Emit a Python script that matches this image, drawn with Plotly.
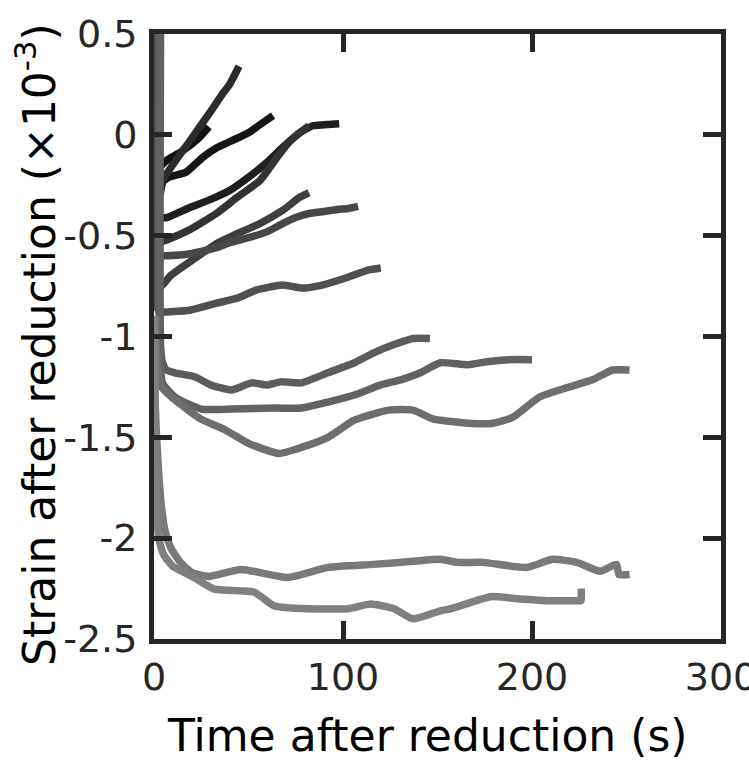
import plotly.graph_objects as go

# ---- data ----
t_a = [3, 3, 5, 12, 19, 25, 31, 36, 40, 45]
s_a = [0.6, -0.30, -0.22, -0.12, -0.03, 0.05, 0.13, 0.20, 0.25, 0.34]

t_b = [1.5, 1.5, 3, 7, 15, 24, 29]
s_b = [0.6, -0.17, -0.16, -0.125, -0.08, -0.013, 0.04]

t_c = [1, 1, 3, 8, 17, 26, 33, 41, 50, 56, 63]
s_c = [0.6, -0.24, -0.24, -0.21, -0.185, -0.11, -0.065, -0.03, 0.01, 0.05, 0.095]

t_d = [0.5, 0.5, 3, 7, 19, 30, 40, 50, 59, 68, 77, 84, 90, 98]
s_d = [0.6, -0.41, -0.41, -0.41, -0.36, -0.32, -0.276, -0.21, -0.143, -0.063, 0.01, 0.045, 0.05, 0.055]

t_e = [1, 1, 4, 7, 19, 33, 44, 56, 65, 72, 82]
s_e = [0.6, -0.52, -0.53, -0.52, -0.47, -0.39, -0.31, -0.227, -0.113, -0.03, 0.045]

t_f = [1.5, 1.5, 2.2, 4, 8.5, 20.5, 33, 44, 56, 68, 77, 82]
s_f = [0.6, -0.68, -0.73, -0.75, -0.70, -0.62, -0.54, -0.49, -0.44, -0.375, -0.31, -0.286]

t_g = [1, 1, 3, 7, 19, 33, 40, 50, 60, 68, 75, 82, 90, 97, 103, 108]
s_g = [0.6, -0.6, -0.6, -0.6, -0.59, -0.56, -0.535, -0.51, -0.48, -0.44, -0.41, -0.39, -0.38, -0.37, -0.365, -0.355]

t_h = [1.5, 1.5, 3, 7, 19, 33, 44, 54, 68, 78.5, 89, 103, 113.5, 120]
s_h = [0.6, -0.85, -0.88, -0.878, -0.87, -0.835, -0.81, -0.77, -0.745, -0.76, -0.745, -0.705, -0.67, -0.66]

t_i = [3.5, 3.5, 4.5, 6.5, 11, 21.6, 30, 41, 51.6, 60, 67, 78, 92, 106, 116.5, 127, 137, 146]
s_i = [0.6, -1.05, -1.13, -1.166, -1.18, -1.2, -1.24, -1.265, -1.23, -1.24, -1.225, -1.23, -1.18, -1.13, -1.08, -1.04, -1.01, -1.01]

t_j = [3, 3, 4.5, 11, 25, 41, 64, 78, 92, 106, 120, 130.5, 141, 151.5, 166, 176, 188, 200]
s_j = [0.6, -1.1, -1.23, -1.3, -1.36, -1.36, -1.355, -1.355, -1.325, -1.29, -1.24, -1.215, -1.18, -1.13, -1.14, -1.125, -1.115, -1.115]

t_k = [1, 1, 4, 16, 25, 37, 50, 66, 78, 92, 106, 124, 137, 148, 166, 179.5, 190, 204, 218, 232, 242.6, 251.6]
s_k = [-0.9, -1.0, -1.25, -1.35, -1.41, -1.46, -1.53, -1.58, -1.55, -1.5, -1.415, -1.365, -1.365, -1.41, -1.43, -1.43, -1.4, -1.3, -1.255, -1.215, -1.166, -1.166]

t_l = [0.5, 0.5, 2, 4, 6, 9, 14, 20, 29, 46, 71, 92, 116, 137, 151.5, 160.5, 174, 197, 211, 223.7, 236, 244.7, 246, 251.6]
s_l = [-0.9, -1.3, -1.6, -1.85, -1.97, -2.05, -2.12, -2.17, -2.19, -2.155, -2.195, -2.145, -2.13, -2.115, -2.105, -2.12, -2.12, -2.145, -2.105, -2.12, -2.164, -2.13, -2.18, -2.18]

t_m = [0, 0, 0.5, 1, 1.5, 2.5, 5, 10, 16, 22, 32, 53, 63.7, 81.5, 102.6, 114.7, 127, 137, 151.5, 157, 178, 192, 209.5, 223.7, 226, 226]
s_m = [-0.9, -0.95, -1.2, -1.6, -1.85, -2.0, -2.08, -2.14, -2.17, -2.2, -2.253, -2.268, -2.336, -2.35, -2.35, -2.327, -2.35, -2.4, -2.36, -2.35, -2.29, -2.3, -2.31, -2.31, -2.31, -2.25]

series_t = [t_b, t_c, t_d, t_a, t_e, t_f, t_g, t_h, t_i, t_j, t_k, t_l, t_m]
series_s = [s_b, s_c, s_d, s_a, s_e, s_f, s_g, s_h, s_i, s_j, s_k, s_l, s_m]
series_col = ["#111111", "#161616", "#1f1f1f", "#2b2b2b", "#333333", "#3f3f3f",
              "#474747", "#505050", "#5c5c5c", "#626262", "#6e6e6e", "#797979", "#808080"]

x_ticks = [0, 100, 200, 300]
y_ticks = [-2.5, -2, -1.5, -1, -0.5, 0, 0.5]
y_ticktext = ["-2.5", "-2", "-1.5", "-1", "-0.5", "0", "0.5"]

fig = go.Figure()
for tt, ss, cc in zip(series_t, series_s, series_col):
    fig.add_trace(go.Scatter(x=tt, y=ss, mode="lines",
                             line=dict(color=cc, width=7.5, shape="spline", smoothing=0.5),
                             showlegend=False, hoverinfo="skip"))

axis_common = dict(showline=True, linewidth=5, linecolor="#262626", mirror="ticks",
                   ticks="inside", ticklen=18, tickwidth=5, tickcolor="#262626",
                   showgrid=False, zeroline=False, ticklabeloverflow="allow",
                   automargin=False,
                   tickfont=dict(family="DejaVu Sans", size=38, color="#262626"))

fig.update_xaxes(range=[0, 300], tickvals=x_ticks, **axis_common)
fig.update_yaxes(range=[-2.5, 0.5], tickvals=y_ticks, ticktext=y_ticktext,
                 ticklabelstandoff=4, **axis_common)

fig.add_annotation(text="Time after reduction (s)", xref="paper", yref="paper",
                   x=0.4806, y=-0.114, xanchor="center", yanchor="top", showarrow=False,
                   font=dict(family="DejaVu Sans", size=44, color="#000000"))
fig.add_annotation(text="Strain after reduction (×10<sup>-3</sup>)", xref="paper", yref="paper",
                   x=-0.208, y=0.486, xanchor="center", yanchor="middle", textangle=-90,
                   showarrow=False,
                   font=dict(family="DejaVu Sans", size=44, color="#000000"))

fig.update_layout(width=749, height=763, margin=dict(l=154, r=28, t=34, b=124, autoexpand=False),
                  paper_bgcolor="white", plot_bgcolor="white")

fig.write_html("out.html")
